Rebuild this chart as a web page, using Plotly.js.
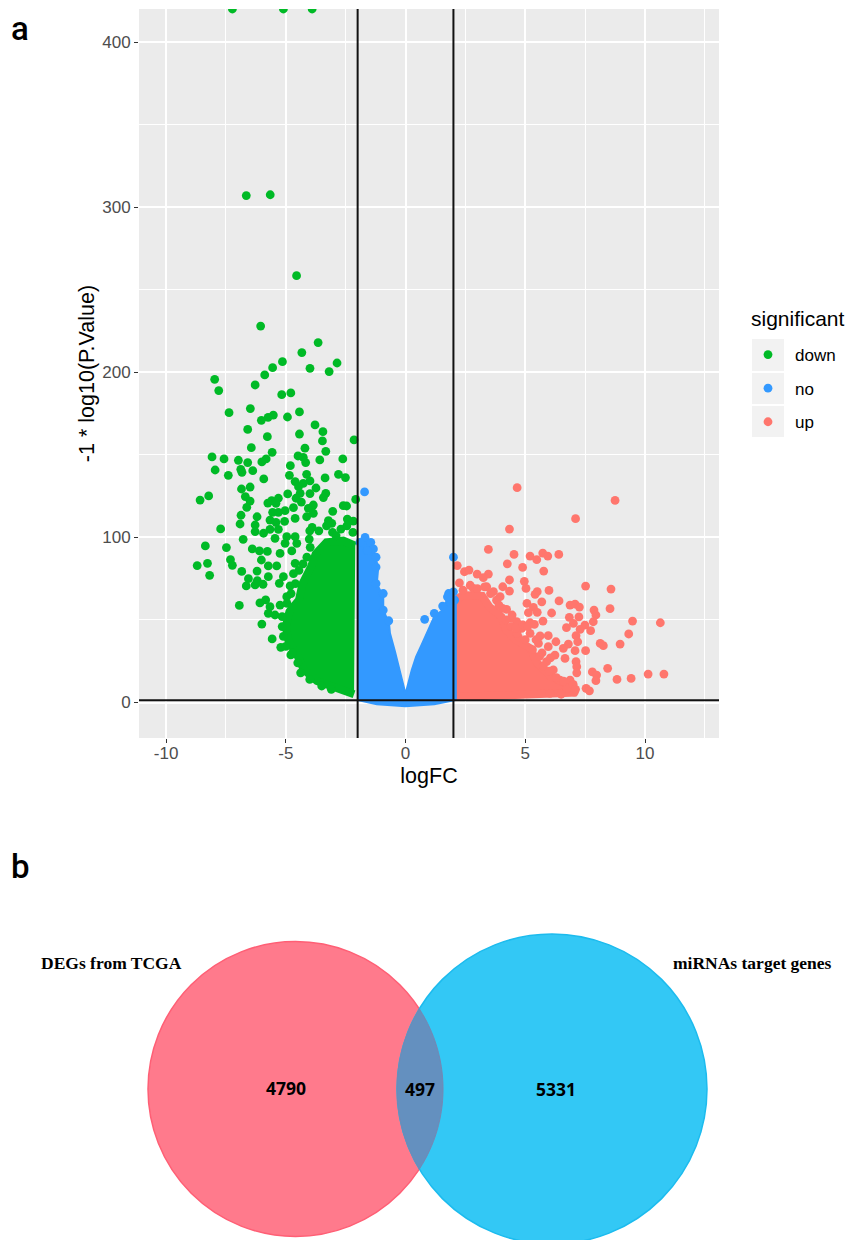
<!DOCTYPE html>
<html><head><meta charset="utf-8">
<script src="https://cdn.plot.ly/plotly-3.0.1.min.js"></script>
<style>html,body{margin:0;padding:0;background:#fff}</style></head>
<body><div id="chart" style="width:848px;height:1240px"></div>
<script>
// ---- Volcano plot values ----
const categories = ['down', 'no', 'up'];
const downLogFC = [-7.23,-5.1,-3.9,-6.65,-5.65,-4.55,-6.05,-3.65,-4.33,-5.14,-5.55,-5.88,-6.28,-7.97,-7.8,-3.99,-3.19,-2.86,-5.17,-4.79,-6.48,-7.37,-4.43,-4.93,-5.52,-5.74,-6.02,-3.78,-3.45,-6.59,-4.43,-5.77,-3.47,-2.15,-4.2,-6.44,-3.33,-5.57,-8.08,-7.58,-6.98,-6.59,-5.82,-6.0,-4.49,-4.27,-4.17,-3.58,-2.62,-4.81,-7.95,-7.4,-6.88,-6.83,-6.38,-5.92,-4.85,-4.13,-3.36,-2.8,-2.51,-4.61,-4.27,-3.99,-4.47,-6.85,-6.49,-4.92,-3.74,-4.4,-3.99,-3.33,-3.43,-8.22,-8.58,-6.69,-6.49,-6.63,-5.31,-5.59,-5.75,-5.41,-4.57,-4.35,-2.08,-3.85,-4.06,-4.68,-5.03,-5.31,-5.55,-2.6,-2.46,-3.04,-6.87,-6.2,-4.61,-4.13,-3.85,-5.66,-5.41,-5.05,-2.43,-2.18,-6.91,-6.28,-3.22,-3.08,-7.72,-6.28,-5.93,-5.66,-5.31,-6.78,-5.45,-4.96,-4.61,-8.36,-7.48,-6.4,-6.1,-5.77,-4.75,-5.03,-4.54,-5.24,-6.02,-7.31,-7.23,-8.27,-8.7,-8.18,-6.84,-6.2,-5.73,-6.56,-6.65,-6.28,-5.95,-6.19,-5.73,-5.38,-4.61,-5.1,-5.27,-4.96,-4.82,-6.94,-6.08,-5.84,-5.66,-5.73,-5.45,-5.24,-6.0,-5.57,-5.21,-4.79,-3.9,-3.62,-3.3,-3.05,-2.7,-2.45,-2.2,-4.02,-3.98,-4.12,-4.28,-4.45,-4.68,-4.6,-4.78,-4.95,-5.15,-5.15,-5.1,-5,-4.72,-4.5,-4.38,-4,-3.5,-3.1,-4.0,-2.9];
const downP = [420,420,420,307,307.5,258.5,228,218,211.9,206.4,202.8,198.4,192.3,195.7,188.9,202.4,200.4,205.6,186.4,187.5,178,175.5,176,172.9,174.1,172.7,170.9,168.1,164,165.4,162.6,161,158.4,159,154,154.3,152.1,151.5,148.7,147.5,146.7,145.3,147.5,145.7,149.3,148.5,145.3,146.9,147.5,143.4,140.8,137.6,141.2,139.4,140.4,135.4,137.6,138.2,136,138.2,136.2,133.8,132.7,134.2,130.7,129.3,130.5,126.3,129.9,126.7,126.5,126.7,124.1,125.1,122.6,124.7,122,118.2,123.7,122.2,120.8,120.6,123.7,121.4,123,119.6,117.6,118,116.2,115.2,115.2,119.2,119,115.8,113.4,112.5,111.5,112.5,114.6,110.5,109.1,109.7,111.1,109.9,108.1,107.5,110.1,108.5,105.1,103.5,102.5,104.9,104.9,98.8,99.4,100.4,100.4,94.8,93.8,93,91.8,91.5,91.8,96.4,96.4,90.3,86.3,86.5,83.1,84.3,82.9,77,79.4,79.6,76.2,75,70.6,71.2,71.6,73.8,82.7,82.7,84.3,76.2,72.2,64.1,70.6,58.8,60.3,62.1,58,54,53,59,47.5,38.5,33.4,28.8,106,104,107,103,105,107,103,99,94,88,84,80,78,72,66,60,52,46,40,34,30,24,18,14,10,8,104,101];
const downCoreLogFC = [-2.1,-2.6,-3.3,-3.75,-3.95,-4.3,-4.45,-4.85,-5.0,-4.9,-4.5,-4.25,-3.7,-2.8,-2.15];
const downCoreP = [95,98,97,90,82,72,62,55,46,38,28,20,13,8,5];

const noLogFC = [-1.71,2.0,-1.69,-1.45,-1.34,-1.23,-1.23,-1.23,-0.93,-0.93,-0.7,0.8,1.2,1.55,1.8,2.0,1.85,2.05,1.75,-1.9,-1.6];
const noP = [127.5,88,100,97,93,88,82,72,66,56,49.5,50.4,54,58.4,66,67,62,62,64,97,92];
const noCoreLogFC = [-2.0,-1.69,-1.45,-1.3,-1.2,-1.15,-1.2,-0.93,-0.93,-0.69,-0.65,-0.44,-0.26,0,0.26,0.44,0.67,0.95,1.2,1.55,1.79,2.1,2.1,1.2,0,-1.2,-2.0];
const noCoreP = [97,100,96,90,85,80,72,64,56,48,41.9,30.8,19.7,5.1,19.7,27.7,34.8,43.9,52,56,64,64,1.5,-1,-2.2,-1,1.5];

const upLogFC = [4.66,8.75,7.1,4.34,3.46,4.53,4.25,5.2,5.48,5.73,5.94,6.4,4.89,5.77,2.16,2.46,2.65,2.99,3.46,3.25,4.34,4.96,2.25,4.06,5.03,4.34,5.5,5.41,5.99,7.52,8.58,6.41,5.69,5.07,6.87,7.08,7.26,8.54,7.87,7.95,5.34,5.5,5.13,6.1,6.84,7.24,5.74,5.2,5.38,9.48,10.64,7.84,7.49,7.01,6.72,7.29,7.73,9.32,7.12,5.96,5.62,6.28,7.19,8.13,8.26,8.96,6.8,6.59,7.08,7.52,6.24,6.66,7.12,7.15,7.15,8.44,7.8,7.98,7.95,8.83,9.42,10.13,10.79,7.05,7.54,7.68,5.89,6.17,6.45,6.87,6.73,6.03,4.64,4.43,4.22,3.95,3.67,3.39,2.83,4.85,5.2,4.71,5.55,5.96,2.4,2.7,3.0,3.3,3.55,3.8,4.05,4.2,4.4,4.65,5,5.3,5.6,5.75,6,6.3,6.6,7,7.1,6.5,3.9,4.45,4.9,5.1,4.6,5.45,5.7,6.05];
const upP = [130.1,122.4,111.3,105,92.7,89.7,84,88.7,86.5,90.5,88.7,89.7,81.8,79.6,82.9,79.2,80.2,77.8,77.8,75.6,74.2,73.4,72.4,70.1,69.1,67.5,67.1,65.5,67.9,70.5,68.7,61.5,61,60,59,59.6,57.8,56.8,56,53,57.6,54.6,54.4,54.2,51.6,51.8,49.3,48.3,47.3,49.3,48.3,48.9,46.9,47.9,45.3,44.3,43.5,41.5,40.5,40.5,40.3,36.8,36.8,35.8,34.4,35.4,35.4,32.8,31.4,31.4,28.7,26.7,24.7,21.7,18,20.7,18.5,16.6,13.2,14,14.6,17.2,17.2,6.3,8.6,7.1,24.7,19.7,13.6,13.6,8.6,5.5,49,51,56.4,64.1,67.1,70.1,69.1,44.9,41.9,39.8,35.8,33.8,68,71,69,70,66,62,57,50,46,42,38,32,28,22,19,15,13,11,8,5,59,53,47,46,45,38,30,27];
const upCoreLogFC = [2.1,2.4,3.2,3.5,4,4.2,4.6,5.2,5.5,6.05,6.9,6.95,4.6,2.1];
const upCoreP = [62,65,64.5,58,52,44,38,33,24,16,10,6,4.5,3.5];

const xTickVals = [-10,-5,0,5,10];
const xTickText = ['-10','-5','0','5','10'];
const yTickVals = [0,100,200,300,400];
const vLines = [-2,2];
const hLine = 1.3;

// ---- Venn values ----
const vennCounts = ['4790','497','5331'];
const vennNames = ['DEGs from TCGA','miRNAs target genes'];

// ---- Styles and placement (page pixels) ----
const W = 848, H = 1240;
const px = v => v / W, py = v => 1 - v / H;
const GREEN = '#00BA26', BLUE = '#3399FF', RED = '#FF766D';
const SANS = 'Liberation Sans, Arial, sans-serif';
const left = {cx:295.5, cy:1089, r:147.5}, right = {cx:552, cy:1089, r:155};

function core(x, y, color, width) {
  return {x, y, type:'scatter', mode:'lines', fill:'toself', fillcolor:color,
    line:{color, width}, showlegend:false, hoverinfo:'skip'};
}
function pts(name, x, y, color, rank) {
  return {x, y, name, type:'scatter', mode:'markers', legendrank:rank, legendgroup:name,
    marker:{color, size:8.8, line:{width:0}}};
}
const traces = [
  core(downCoreLogFC, downCoreP, GREEN, 8),
  pts(categories[0], downLogFC, downP, GREEN, 1),
  core(upCoreLogFC, upCoreP, RED, 8),
  pts(categories[2], upLogFC, upP, RED, 3),
  core(noCoreLogFC, noCoreP, BLUE, 2),
  pts(categories[1], noLogFC, noP, BLUE, 2)
];

function lens() {
  const d = right.cx - left.cx;
  const a = (d*d + left.r*left.r - right.r*right.r) / (2*d);
  const h = Math.sqrt(left.r*left.r - a*a);
  const p = [];
  const a1 = Math.atan2(h, a), a2 = Math.atan2(h, a - d);
  for (let i = 0; i <= 60; i++) { const t = -a1 + 2*a1*i/60;
    p.push([left.cx + left.r*Math.cos(t), left.cy + left.r*Math.sin(t)]); }
  for (let i = 0; i <= 60; i++) { const t = a2 + (2*Math.PI - 2*a2)*i/60;
    p.push([right.cx + right.r*Math.cos(t), right.cy + right.r*Math.sin(t)]); }
  return 'M' + p.map(q => px(q[0]).toFixed(5) + ',' + py(q[1]).toFixed(5)).join('L') + 'Z';
}
function circle(c, fill, edge) {
  return {type:'circle', xref:'paper', yref:'paper', layer:'below',
    x0:px(c.cx-c.r), x1:px(c.cx+c.r), y0:py(c.cy+c.r), y1:py(c.cy-c.r),
    fillcolor:fill, line:{color:edge, width:1.5}};
}
function keyBox(y0, y1) {
  return {type:'rect', xref:'paper', yref:'paper', layer:'below',
    x0:px(752), x1:px(784), y0:py(y1), y1:py(y0), fillcolor:'#F2F2F2', line:{width:0}};
}
const shapes = [
  keyBox(339,371), keyBox(373,404), keyBox(406,437),
  circle(left, '#FF7A8C', '#FF5F75'),
  circle(right, '#33C8F5', '#1CBBEE'),
  {type:'path', xref:'paper', yref:'paper', layer:'below', path:lens(), fillcolor:'#6490BF', line:{color:'#7488B4', width:1}},
];
vLines.forEach(v => shapes.push({type:'line', xref:'x', yref:'paper', x0:v, x1:v, y0:py(738), y1:py(9), line:{color:'#111', width:2}}));
shapes.push({type:'line', xref:'paper', yref:'y', x0:px(139), x1:px(719), y0:hLine, y1:hLine, line:{color:'#111', width:2}});

function note(text, x, y, size, family, weight, anchor) {
  return {text, xref:'paper', yref:'paper', x:px(x), y:py(y), showarrow:false, xanchor:anchor||'center', yanchor:'middle',
    font:{size, family, color:'#000', weight:weight||400}};
}
const annotations = [
  note('a', 20, 28, 33, 'Roboto, sans-serif', 500),
  note('b', 20, 866, 33, 'Roboto, sans-serif', 500),
  note(vennNames[0], 111, 963, 17.5, 'Liberation Serif, serif', 700),
  note(vennNames[1], 752, 963, 17.5, 'Liberation Serif, serif', 700),
  note(vennCounts[0], 286, 1088, 17.5, 'Noto Sans, sans-serif', 700),
  note(vennCounts[1], 420, 1089, 17.5, 'Noto Sans, sans-serif', 700),
  note(vennCounts[2], 556, 1089, 17.5, 'Noto Sans, sans-serif', 700),
  note('significant', 749, 318, 21, SANS, 400, 'left')
];

const axisBase = {showline:false, zeroline:false, showgrid:true, gridcolor:'#FFFFFF', gridwidth:1.5,
  ticks:'outside', ticklen:4, tickwidth:1.3, tickcolor:'#333333', tickfont:{size:17, family:SANS, color:'#4D4D4D'}};

const layout = {
  width:W, height:H, margin:{l:0,r:0,t:0,b:0}, autosize:false,
  paper_bgcolor:'#FFFFFF', plot_bgcolor:'#EBEBEB', font:{family:SANS},
  xaxis:Object.assign({}, axisBase, {domain:[px(139),px(719)], range:[-11.13,13.09], tickmode:'array', tickvals:xTickVals, ticktext:xTickText,
    ticklabelstandoff:-4,
    minor:{dtick:2.5, tick0:0, showgrid:true, gridcolor:'#FFFFFF', gridwidth:0.8, ticks:''},
    title:{text:'logFC', font:{size:21.5, family:SANS, color:'#000'}, standoff:5}}),
  yaxis:Object.assign({}, axisBase, {domain:[py(738),py(9)], range:[-21.5,420], tickmode:'array', tickvals:yTickVals,
    minor:{dtick:50, tick0:0, showgrid:true, gridcolor:'#FFFFFF', gridwidth:0.8, ticks:''},
    title:{text:'-1 * log10(P.Value)', font:{size:21.5, family:SANS, color:'#000'}, standoff:1}}),
  legend:{x:px(750), y:py(337), xanchor:'left', yanchor:'top', bgcolor:'rgba(0,0,0,0)', borderwidth:0,
    font:{size:17, family:SANS, color:'#000'}, itemsizing:'trace', itemwidth:44, indentation:-9, tracegroupgap:8.5, traceorder:'grouped'},
  shapes, annotations, showlegend:true, hovermode:'closest'
};
Plotly.newPlot('chart', traces, layout, {displayModeBar:false, responsive:false});
</script></body></html>
